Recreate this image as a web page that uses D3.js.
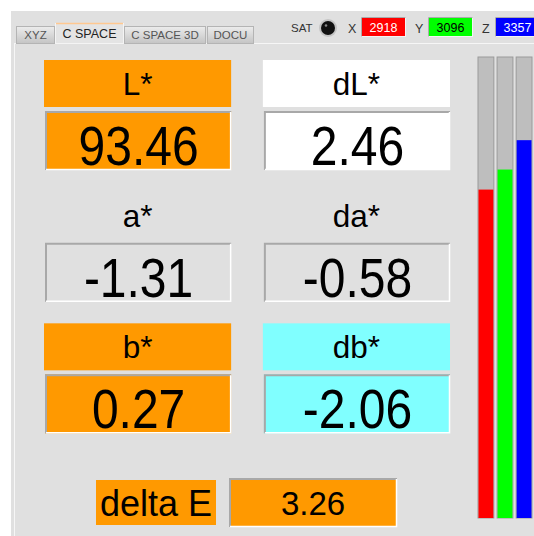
<!DOCTYPE html>
<html>
<head>
<meta charset="utf-8">
<script src="https://cdn.jsdelivr.net/npm/d3@7"></script>
<style>
  body { margin: 0; background: #fff; }
  text { font-family: "Liberation Sans", Arial, sans-serif; }
</style>
</head>
<body>
<div id="panel"></div>
<script>
// data
const tabs = ["XYZ", "C SPACE", "C SPACE 3D", "DOCU"];
const activeTab = "C SPACE";
const fieldNames = ["L*", "dL*", "a*", "da*", "b*", "db*"];
const fieldValues = [93.46, 2.46, -1.31, -0.58, 0.27, -2.06];
const labelColors = ["#ff9900", "#ffffff", "none", "none", "#ff9900", "#80ffff"];
const valueColors = ["#ff9900", "#ffffff", "#e0e0e0", "#e0e0e0", "#ff9900", "#80ffff"];
const deltaE = 3.26;
const xyzNames = ["X", "Y", "Z"];
const xyzValues = [2918, 3096, 3357];
const xyzColors = ["#ff0000", "#00ff00", "#0000ff"];
const xyzText = ["#ffffff", "#000000", "#ffffff"];
const satMax = 4096;

const width = 534;
const height = 536;
const bg = "#e0e0e0";

const svg = d3.create("svg")
    .attr("width", width)
    .attr("height", height);

// window background
svg.append("rect").attr("width", width).attr("height", height).attr("fill", "#fff");
svg.append("rect").attr("x", 11).attr("y", 11).attr("width", width - 11).attr("height", height - 11).attr("fill", bg);

// tab strip
const tabX = [16, 55, 124, 207];
const tabW = [38, 68, 81, 46];
const defs = svg.append("defs");
const grad = defs.append("linearGradient").attr("id", "tabgrad").attr("x1", 0).attr("x2", 0).attr("y1", 0).attr("y2", 1);
grad.append("stop").attr("offset", 0).attr("stop-color", "#ececec");
grad.append("stop").attr("offset", 1).attr("stop-color", "#c4c4c4");

// panel border
svg.append("line").attr("x1", 15).attr("x2", width).attr("y1", 43.5).attr("y2", 43.5).attr("stroke", "#f6f6f6");
svg.append("line").attr("x1", 14.5).attr("x2", 14.5).attr("y1", 43).attr("y2", height).attr("stroke", "#f6f6f6");

const tabG = svg.append("g").selectAll("g").data(tabs).join("g")
    .attr("transform", (d, i) => `translate(${tabX[i]},0)`);
tabG.append("rect")
    .attr("x", 0.5)
    .attr("y", d => d == activeTab ? 23.5 : 26.5)
    .attr("width", (d, i) => tabW[i])
    .attr("height", d => d == activeTab ? 20 : 17)
    .attr("fill", d => d == activeTab ? "#e4e4e4" : "url(#tabgrad)")
    .attr("stroke", d => d == activeTab ? "#f4f4f4" : "#b4b4b4");
tabG.filter(d => d == activeTab).append("line")
    .attr("x1", 1).attr("x2", (d) => tabW[tabs.indexOf(d)])
    .attr("y1", 23.5).attr("y2", 23.5)
    .attr("stroke", "#ffc890").attr("stroke-width", 1.5);
tabG.append("text")
    .text(d => d)
    .attr("x", (d, i) => tabW[i] / 2 + 0.5)
    .attr("y", d => d == activeTab ? 38 : 39)
    .attr("text-anchor", "middle")
    .attr("font-size", d => d == activeTab ? 12.5 : 11.5)
    .attr("fill", d => d == activeTab ? "#222" : "#555");

// SAT + knob
svg.append("text").text("SAT").attr("x", 291).attr("y", 32).attr("font-size", 11.5).attr("fill", "#333");
svg.append("circle").attr("cx", 328).attr("cy", 28).attr("r", 9).attr("fill", "#c4c4c4");
svg.append("circle").attr("cx", 328).attr("cy", 28).attr("r", 7).attr("fill", "#111");
svg.append("circle").attr("cx", 326).attr("cy", 25.5).attr("r", 1.3).attr("fill", "#888");

// X Y Z readouts
const xyzX = d3.scaleBand(xyzNames, [345, 546]).paddingInner(0);
const xyzG = svg.append("g").selectAll("g").data(xyzNames).join("g")
    .attr("transform", d => `translate(${xyzX(d)},0)`);
xyzG.append("text").text(d => d).attr("x", 3).attr("y", 33).attr("font-size", 12.5).attr("fill", "#333");
xyzG.append("rect")
    .attr("x", 16.5).attr("y", 17.5).attr("width", 44).attr("height", 19)
    .attr("fill", (d, i) => xyzColors[i]).attr("stroke", "#f4f4f4");
xyzG.append("line").attr("x1", 16.5).attr("x2", 60.5).attr("y1", 17.5).attr("y2", 17.5).attr("stroke", "#aaa");
xyzG.append("line").attr("x1", 16.5).attr("x2", 16.5).attr("y1", 17.5).attr("y2", 36.5).attr("stroke", "#aaa");
xyzG.append("text")
    .text((d, i) => xyzValues[i])
    .attr("x", 38.5).attr("y", 32).attr("text-anchor", "middle")
    .attr("font-size", 12.5).attr("fill", (d, i) => xyzText[i]);

// field grid
const col = d3.scaleBand([0, 1], [44, 450]).paddingInner(0.145);
const row = d3.scaleBand([0, 1, 2], [60, 455]).paddingInner(0);

function insetBox(g, x, y, w, h, fill) {
    g.append("rect").attr("x", x).attr("y", y).attr("width", w).attr("height", h).attr("fill", fill);
    g.append("path").attr("d", `M${x + 1},${y + h} V${y + 1} H${x + w}`)
        .attr("fill", "none").attr("stroke", "#a8a8a8").attr("stroke-width", 2);
    g.append("path").attr("d", `M${x + w - 0.5},${y + 1} V${y + h - 0.5} H${x + 1}`)
        .attr("fill", "none").attr("stroke", "#ffffff").attr("stroke-width", 1.5);
}

const fieldG = svg.append("g").selectAll("g").data(fieldNames).join("g")
    .attr("transform", (d, i) => `translate(${col(i % 2)},${row(Math.floor(i / 2))})`);

fieldG.each(function (d, i) {
    const g = d3.select(this);
    const w = col.bandwidth();
    if (labelColors[i] != "none") {
        g.append("rect").attr("x", 0).attr("y", 0).attr("width", w).attr("height", 47).attr("fill", labelColors[i]);
    }
    g.append("text").text(d)
        .attr("x", w / 2).attr("y", 35)
        .attr("text-anchor", "middle").attr("font-size", 31.5).attr("fill", "#000");
    insetBox(g, 1, 51, w - 1, 59, valueColors[i]);
    // the readout digits are drawn a little taller than wide
    g.append("text").text(d3.format(".2f")(fieldValues[i]).replace("−", "-"))
        .attr("transform", `translate(${w / 2 + 1},105) scale(1,1.17)`)
        .attr("text-anchor", "middle").attr("font-size", 48).attr("fill", "#000");
});

// delta E
svg.append("rect").attr("x", 96).attr("y", 480).attr("width", 120).attr("height", 45).attr("fill", "#ff9900");
svg.append("text").text("delta E").attr("x", 156).attr("y", 516).attr("text-anchor", "middle").attr("font-size", 36);
const deG = svg.append("g");
insetBox(deG, 229, 478, 168, 49, "#ff9900");
deG.append("text").text(d3.format(".2f")(deltaE)).attr("x", 313).attr("y", 515)
    .attr("text-anchor", "middle").attr("font-size", 33);

// saturation bars
const barX = d3.scaleBand(xyzNames, [478, 532]).paddingInner(0.17).paddingOuter(0).align(0);
const barY = d3.scaleLinear([0, satMax], [518, 57]);
const barG = svg.append("g").selectAll("g").data(xyzNames).join("g");
barG.append("rect")
    .attr("x", d => barX(d)).attr("y", barY(satMax))
    .attr("width", barX.bandwidth()).attr("height", barY(0) - barY(satMax))
    .attr("fill", "#bebebe").attr("stroke", "#9a9a9a").attr("stroke-width", 1);
barG.append("rect")
    .attr("x", d => barX(d) + 0.5).attr("y", (d, i) => barY(xyzValues[i]))
    .attr("width", barX.bandwidth() - 1).attr("height", (d, i) => barY(0) - barY(xyzValues[i]))
    .attr("fill", (d, i) => xyzColors[i]);

document.getElementById("panel").append(svg.node());
</script>
</body>
</html>
